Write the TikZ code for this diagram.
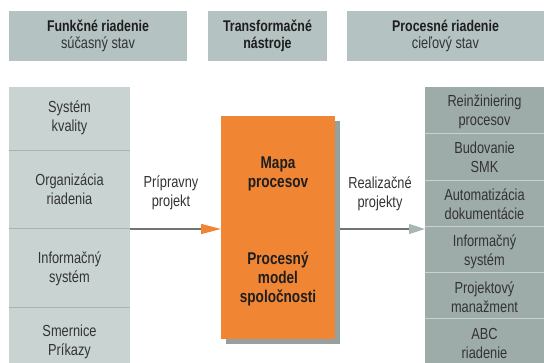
\documentclass[tikz,border=0pt]{standalone}
\usepackage{fontspec}
\setmainfont[FakeStretch=0.8]{Liberation Sans}
\usetikzlibrary{arrows.meta}
\definecolor{hdr}{HTML}{B4C3C2}
\definecolor{leftc}{HTML}{C9D4D2}
\definecolor{rightc}{HTML}{9EACA9}
\definecolor{ldiv}{HTML}{A7B3B1}
\definecolor{rdiv}{HTML}{C8D2D0}
\definecolor{orng}{HTML}{F08534}
\definecolor{shad}{HTML}{95A09F}
\definecolor{arr}{HTML}{6F7575}
\definecolor{tipgray}{HTML}{A8B6B4}
\definecolor{txt}{HTML}{333333}
\definecolor{btxt}{HTML}{1E1E1E}
\begin{document}
\begin{tikzpicture}[x=1pt,y=-1pt,
  box/.style={inner sep=0pt, outer sep=0pt, anchor=north west},
  lbl/.style={align=center, inner sep=0pt, text=txt, font=\fontsize{16}{19}\selectfont},
  blbl/.style={align=center, inner sep=0pt, text=btxt, font=\bfseries\fontsize{17}{19}\selectfont},
  hlbl/.style={align=center, inner sep=0pt, text=txt, font=\fontsize{16}{17.5}\selectfont}]
\useasboundingbox (0,0) rectangle (544,363);
% header boxes
\node[box, fill=hdr, minimum width=178pt, minimum height=50pt] (h1) at (9,11) {};
\node[box, fill=hdr, minimum width=119pt, minimum height=50pt] (h2) at (208,11) {};
\node[box, fill=hdr, minimum width=197pt, minimum height=50pt] (h3) at (347,11) {};
\node[hlbl] (h1t) at (h1.center) {{\bfseries\fontsize{15.5}{17.5}\selectfont\color{btxt}Funkčné riadenie}\\súčasný stav};
\node[hlbl, text=btxt, font=\bfseries\fontsize{15.5}{17.5}\selectfont] (h2t) at (h2.center) {Transformačné\\nástroje};
\node[hlbl] (h3t) at (h3.center) {{\bfseries\fontsize{15.5}{17.5}\selectfont\color{btxt}Procesné riadenie}\\cieľový stav};
% left column
\node[box, fill=leftc, minimum width=121pt, minimum height=276pt] (leftcol) at (9,87) {};
\coordinate (l1) at (9,151); \coordinate (l2) at (9,229); \coordinate (l3) at (9,308);
\foreach \c in {l1,l2,l3} \draw[ldiv, line width=1pt] (\c) -- (\c -| leftcol.east);
\node[lbl] (a1) at (69.5,117.5) {Systém\\kvality};
\node[lbl] (a2) at (69.5,189.5) {Organizácia\\riadenia};
\node[lbl] (a3) at (69.5,268.5) {Informačný\\systém};
\node[lbl] (a4) at (69.5,341.5) {Smernice\\Príkazy};
% right column
\node[box, fill=rightc, minimum width=119pt, minimum height=276pt] (rightcol) at (425,87) {};
\foreach \yy in {134,181,227,273,319} \draw[rdiv, line width=1pt] (425,\yy) -- (544,\yy);
\node[lbl] (b1) at (484.5,112) {Reinžiniering\\procesov};
\node[lbl] (b2) at (484.5,157.5) {Budovanie\\SMK};
\node[lbl] (b3) at (484.5,204) {Automatizácia\\dokumentácie};
\node[lbl] (b4) at (484.5,251.5) {Informačný\\systém};
\node[lbl] (b5) at (484.5,297) {Projektový\\manažment};
\node[lbl] (b6) at (484.5,343) {ABC\\riadenie};
% orange box with shadow
\node[box, fill=shad, minimum width=114pt, minimum height=223pt] (shadow) at (226,121) {};
\node[box, fill=orng, minimum width=114pt, minimum height=223pt] (orange) at (221,116) {};
\node[blbl] (o1) at (278,173.5) {Mapa\\procesov};
\node[blbl] (o2) at (278,279) {Procesný\\model\\spoločnosti};
% arrows
\coordinate (ay) at (0,229);
\draw[arr, line width=1.5pt, -{Triangle[length=20pt,width=10pt,color=orng]}] (leftcol.east |- ay) -- (orange.west |- ay);
\draw[arr, line width=1.5pt, -{Triangle[length=16pt,width=10pt,color=tipgray]}] (shadow.east |- ay) -- (rightcol.west |- ay);
\node[lbl] (p1) at (171,193) {Prípravny\\projekt};
\node[lbl] (p2) at (380,193.5) {Realizačné\\projekty};
\end{tikzpicture}
\end{document}
